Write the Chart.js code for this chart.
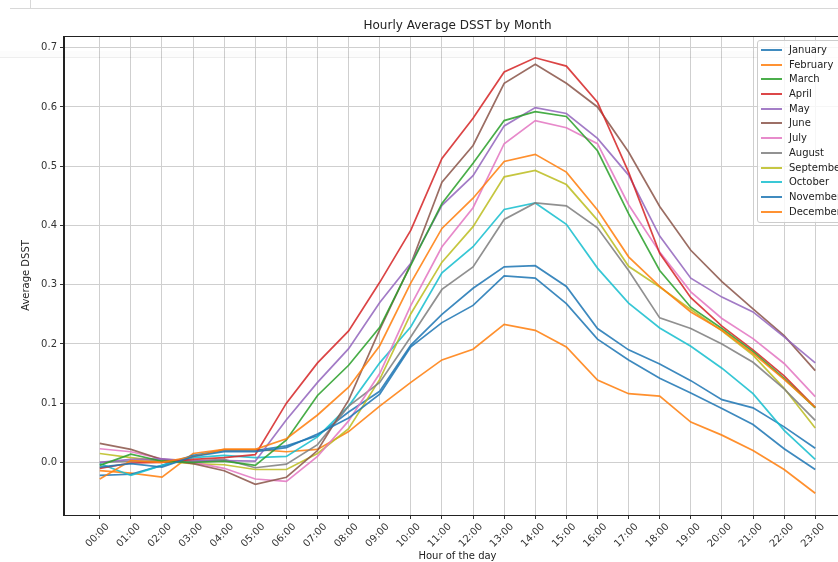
<!DOCTYPE html>
<html>
<head>
<meta charset="utf-8">
<title>Hourly Average DSST by Month</title>
<script src="https://cdn.jsdelivr.net/npm/chart.js@4.4.1/dist/chart.umd.min.js"></script>
<style>
  html, body { margin: 0; padding: 0; background: #fff; overflow: hidden; }
  #wrap { position: relative; width: 838px; height: 562px; overflow: hidden; font-family: "DejaVu Sans", sans-serif; }
  #chart { position: absolute; left: 0; top: 0; }
  #cellbar { position: absolute; left: 10px; top: 0; width: 828px; height: 8px; border-bottom: 1px solid #d8d8d8; }
  #cellbar::before { content: ""; position: absolute; left: 20px; top: 0; height: 8px; border-left: 1px solid #d8d8d8; }
  #shade { position: absolute; left: 0; top: 51px; width: 838px; height: 6px; background: rgba(0,0,0,0.012); border-bottom: 1px solid rgba(0,0,0,0.06); pointer-events: none; }
  #legend { position: absolute; left: 757px; top: 40px; width: 110px; padding: 2px 0 3px 0;
            background: rgba(255,255,255,0.8); border: 1px solid #cccccc; border-radius: 3px; }
  .item { height: 14.7px; line-height: 14.7px; font-size: 10px; color: #222; white-space: nowrap; }
  .swatch { display: inline-block; width: 21px; height: 2px; margin: 0 7px 0 3px; vertical-align: middle; opacity: 0.85; }
</style>
</head>
<body>
<div id="wrap">
  <canvas id="chart" width="900" height="562"></canvas>
  <div id="cellbar"></div>
  <div id="shade"></div>
  <div id="legend"></div>
</div>
<script>
const chartTitle = "Hourly Average DSST by Month";
const xTitle = "Hour of the day";
const yTitle = "Average DSST";

const hours = ["00:00", "01:00", "02:00", "03:00", "04:00", "05:00", "06:00", "07:00",
               "08:00", "09:00", "10:00", "11:00", "12:00", "13:00", "14:00", "15:00",
               "16:00", "17:00", "18:00", "19:00", "20:00", "21:00", "22:00", "23:00"];
const yTicks = [0.0, 0.1, 0.2, 0.3, 0.4, 0.5, 0.6, 0.7];

const months = ["January", "February", "March", "April", "May", "June",
                "July", "August", "September", "October", "November", "December"];
const colors = ["#1f77b4", "#ff7f0e", "#2ca02c", "#d62728", "#9467bd", "#8c564b",
                "#e377c2", "#7f7f7f", "#bcbd22", "#17becf", "#1f77b4", "#ff7f0e"];

// hourly averages, one array per month
const january   = [-0.008, -0.002, -0.008, 0.010, 0.018, 0.018, 0.025, 0.048, 0.075, 0.115, 0.195, 0.236, 0.265, 0.315, 0.311, 0.268, 0.208, 0.173, 0.142, 0.117, 0.091, 0.064, 0.023, -0.012];
const february  = [-0.028, 0.003, 0.000, 0.010, 0.022, 0.022, 0.040, 0.080, 0.127, 0.197, 0.303, 0.395, 0.446, 0.508, 0.520, 0.490, 0.426, 0.347, 0.297, 0.254, 0.223, 0.184, 0.140, 0.093];
const march     = [-0.005, 0.014, 0.002, 0.000, 0.002, -0.005, 0.038, 0.113, 0.164, 0.228, 0.333, 0.437, 0.505, 0.577, 0.592, 0.584, 0.526, 0.420, 0.324, 0.262, 0.226, 0.187, 0.142, 0.092];
const april     = [-0.010, -0.001, 0.000, 0.005, 0.008, 0.013, 0.100, 0.168, 0.222, 0.304, 0.392, 0.513, 0.581, 0.659, 0.683, 0.669, 0.608, 0.490, 0.353, 0.278, 0.230, 0.190, 0.146, 0.093];
const may       = [0.000, 0.005, 0.006, 0.002, 0.003, 0.002, 0.072, 0.135, 0.192, 0.270, 0.336, 0.434, 0.484, 0.568, 0.599, 0.589, 0.547, 0.485, 0.382, 0.311, 0.279, 0.254, 0.212, 0.168];
const june      = [0.032, 0.022, 0.005, -0.002, -0.014, -0.037, -0.025, 0.020, 0.105, 0.224, 0.335, 0.473, 0.535, 0.640, 0.672, 0.640, 0.600, 0.524, 0.432, 0.358, 0.305, 0.259, 0.214, 0.155];
const july      = [0.023, 0.018, 0.006, 0.000, -0.010, -0.028, -0.032, 0.010, 0.070, 0.150, 0.265, 0.364, 0.430, 0.538, 0.577, 0.565, 0.538, 0.435, 0.355, 0.288, 0.243, 0.209, 0.167, 0.111];
const august    = [0.000, 0.002, 0.002, 0.002, 0.005, -0.009, -0.003, 0.030, 0.095, 0.135, 0.212, 0.292, 0.330, 0.410, 0.438, 0.433, 0.396, 0.324, 0.244, 0.226, 0.200, 0.169, 0.124, 0.071];
const september = [0.015, 0.008, 0.002, -0.002, -0.004, -0.012, -0.012, 0.015, 0.057, 0.140, 0.251, 0.338, 0.398, 0.482, 0.493, 0.469, 0.409, 0.331, 0.296, 0.258, 0.222, 0.181, 0.125, 0.058];
const october   = [-0.002, -0.022, -0.005, 0.008, 0.012, 0.008, 0.010, 0.043, 0.095, 0.168, 0.229, 0.320, 0.364, 0.427, 0.438, 0.402, 0.328, 0.269, 0.227, 0.196, 0.159, 0.116, 0.054, 0.005];
const november  = [-0.022, -0.020, -0.005, 0.012, 0.020, 0.020, 0.028, 0.045, 0.085, 0.120, 0.198, 0.250, 0.294, 0.330, 0.332, 0.297, 0.226, 0.190, 0.166, 0.138, 0.106, 0.092, 0.060, 0.024];
const december  = [-0.014, -0.018, -0.025, 0.015, 0.022, 0.022, 0.018, 0.022, 0.052, 0.095, 0.135, 0.173, 0.191, 0.233, 0.223, 0.195, 0.139, 0.116, 0.112, 0.068, 0.046, 0.020, -0.012, -0.052];

const series = [january, february, march, april, may, june,
                july, august, september, october, november, december];

Chart.defaults.font.family = '"DejaVu Sans", sans-serif';
Chart.defaults.font.size = 10;
Chart.defaults.color = "#333";

// title centred over the plot area, plus the frame around it
const frame = {
  id: "frame",
  afterDraw(chart) {
    const { ctx, chartArea: a } = chart;
    ctx.save();
    ctx.strokeStyle = "#222";
    ctx.lineWidth = 1;
    ctx.strokeRect(Math.round(a.left) - 0.5, Math.round(a.top) + 0.5,
                   Math.round(a.right - a.left) + 1, Math.round(a.bottom - a.top));
    ctx.font = '12px "DejaVu Sans", sans-serif';
    ctx.fillStyle = "#222";
    ctx.textAlign = "center";
    ctx.textBaseline = "middle";
    ctx.fillText(chartTitle, (a.left + a.right) / 2, 26);
    ctx.restore();
  }
};

const datasets = months.map((m, i) => ({
  label: m,
  data: series[i].map((v, h) => ({ x: h, y: v })),
  borderColor: colors[i] + "dd",
  backgroundColor: colors[i],
  borderWidth: 1.7,
  pointRadius: 0,
  tension: 0,
  fill: false
}));

new Chart(document.getElementById("chart"), {
  type: "line",
  data: { datasets },
  options: {
    responsive: false,
    animation: false,
    layout: { padding: { top: 36, right: 49, bottom: 0, left: 0 } },
    plugins: { legend: { display: false }, tooltip: { enabled: false } },
    scales: {
      x: {
        type: "linear",
        min: -1.15,
        max: 24.15,
        afterFit: s => { s.height = 47; },
        afterBuildTicks: s => { s.ticks = hours.map((h, i) => ({ value: i })); },
        ticks: {
          autoSkip: false, minRotation: 45, maxRotation: 45, padding: 2, labelOffset: 8,
          callback: v => hours[v]
        },
        grid: { color: "#cfcfcf", lineWidth: 1, tickLength: 4, tickColor: "#333" },
        border: { color: "#222", width: 1 },
        title: { display: true, text: xTitle, padding: { top: 0, bottom: 0 }, color: "#222" }
      },
      y: {
        min: -0.0888,
        max: 0.7198,
        afterFit: s => { s.width = 64; },
        afterBuildTicks: s => { s.ticks = yTicks.map(v => ({ value: v })); },
        ticks: { padding: 3, callback: v => v.toFixed(1) },
        grid: { color: "#cfcfcf", lineWidth: 1, tickLength: 4, tickColor: "#333" },
        border: { color: "#222", width: 1 },
        title: { display: true, text: yTitle, padding: { top: 20, bottom: 0 }, color: "#222" }
      }
    }
  },
  plugins: [frame]
});

// legend box in the upper right corner of the plot
const legend = document.getElementById("legend");
months.forEach((m, i) => {
  const row = document.createElement("div");
  row.className = "item";
  const sw = document.createElement("span");
  sw.className = "swatch";
  sw.style.background = colors[i];
  row.appendChild(sw);
  row.appendChild(document.createTextNode(m));
  legend.appendChild(row);
});
</script>
</body>
</html>
